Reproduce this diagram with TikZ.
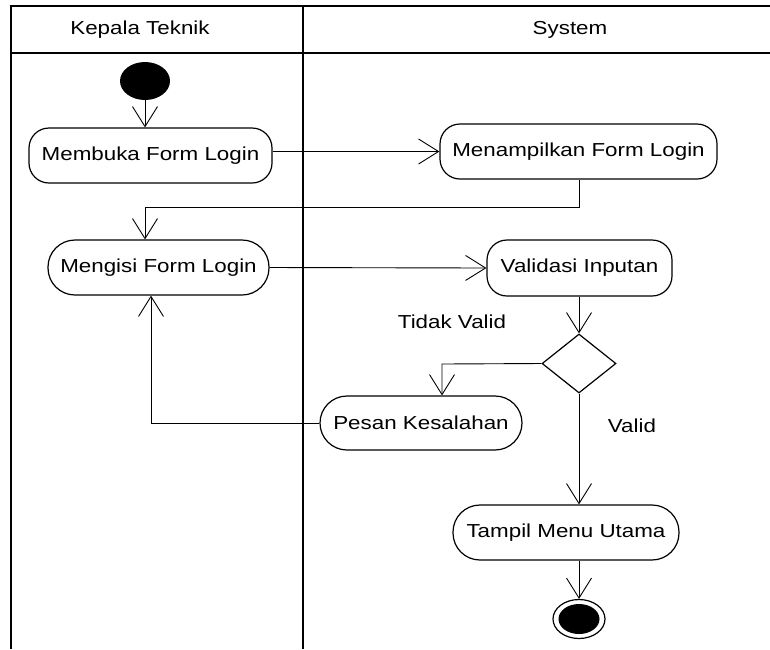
\documentclass[tikz,border=0pt]{standalone}
\usepackage{fontspec}
\setmainfont{Liberation Sans}[FakeStretch=1.19]
\usetikzlibrary{arrows.meta,shapes.geometric}
\begin{document}
\begin{tikzpicture}[x=1pt,y=-1pt,
  lane/.style={line width=1.6pt},
  act/.style={draw,line width=1.2pt,rounded corners=20pt,inner sep=0pt,font=\fontsize{18.8}{22}\selectfont},
  stad/.style={draw,line width=1.2pt,rounded corners=27pt,inner sep=0pt,font=\fontsize{18.8}{22}\selectfont},
  flow/.style={line width=0.9pt,-{Straight Barb[length=20pt,width=25pt,line width=0.9pt]}},
  lbl/.style={font=\fontsize{18.8}{22}\selectfont,inner sep=0pt}]
\useasboundingbox (0,0) rectangle (770,649);
% swimlanes
\draw[lane] (770,6) -- (11,6) -- (11,649);
\draw[lane] (11,53) -- (770,53);
\draw[lane] (303,6) -- (303,649);
\node[lbl] (h1) at (140,30) {Kepala Teknik};
\node[lbl] (h2) at (570,30) {System};
% nodes
\node[ellipse,fill=black,minimum width=50pt,minimum height=38pt,inner sep=0pt] (start) at (145,81) {};
\node[act,minimum width=243pt,minimum height=55pt] (A1) at (150.5,155.5) {Membuka Form Login};
\node[act,minimum width=277pt,minimum height=55pt] (A2) at (578.5,151.5) {Menampilkan Form Login};
\node[stad,minimum width=221pt,minimum height=55pt] (A3) at (158.5,267.5) {Mengisi Form Login};
\node[act,minimum width=185pt,minimum height=56pt] (A4) at (579.5,268) {Validasi Inputan};
\node[diamond,draw,line width=1.2pt,minimum width=74pt,minimum height=59pt,inner sep=0pt] (D) at (579,363.5) {};
\node[stad,minimum width=202pt,minimum height=54pt] (A5) at (421,423) {Pesan Kesalahan};
\node[stad,minimum width=226pt,minimum height=55pt] (A6) at (566,532.5) {Tampil Menu Utama};
\node[ellipse,draw,line width=1.2pt,minimum width=52pt,minimum height=39pt,inner sep=0pt] (end) at (579,619) {};
\node[ellipse,fill=black,minimum width=41pt,minimum height=30pt,inner sep=0pt] (endin) at (579,619) {};
\node[lbl] (l1) at (452,322) {Tidak Valid};
\node[lbl] (l2) at (632,426) {Valid};
% coordinates
\coordinate (k1) at (145,207);
\coordinate (k2) at (442,364);
\coordinate (k3) at (151,423);
% connectors
\draw[flow] (start.south) -- (start.south |- A1.north);
\draw[flow] (A1.east |- A2.west) -- (A2.west);
\draw[flow] (A2.south -| D) -- (D |- k1) -- (k1) -- (k1 |- A3.north);
\draw[flow] (A3.east) -- (A4.west);
\draw[flow] (A4.south -| D) -- (D.north);
\draw[flow] (D.west) -- (k2) -- (k2 |- A5.north);
\draw[flow] (A5.west) -- (k3) -- (k3 |- A3.south);
\draw[flow] (D.south) -- (D.south |- A6.north);
\draw[flow] (A6.south -| end) -- (end.north);
\end{tikzpicture}
\end{document}
